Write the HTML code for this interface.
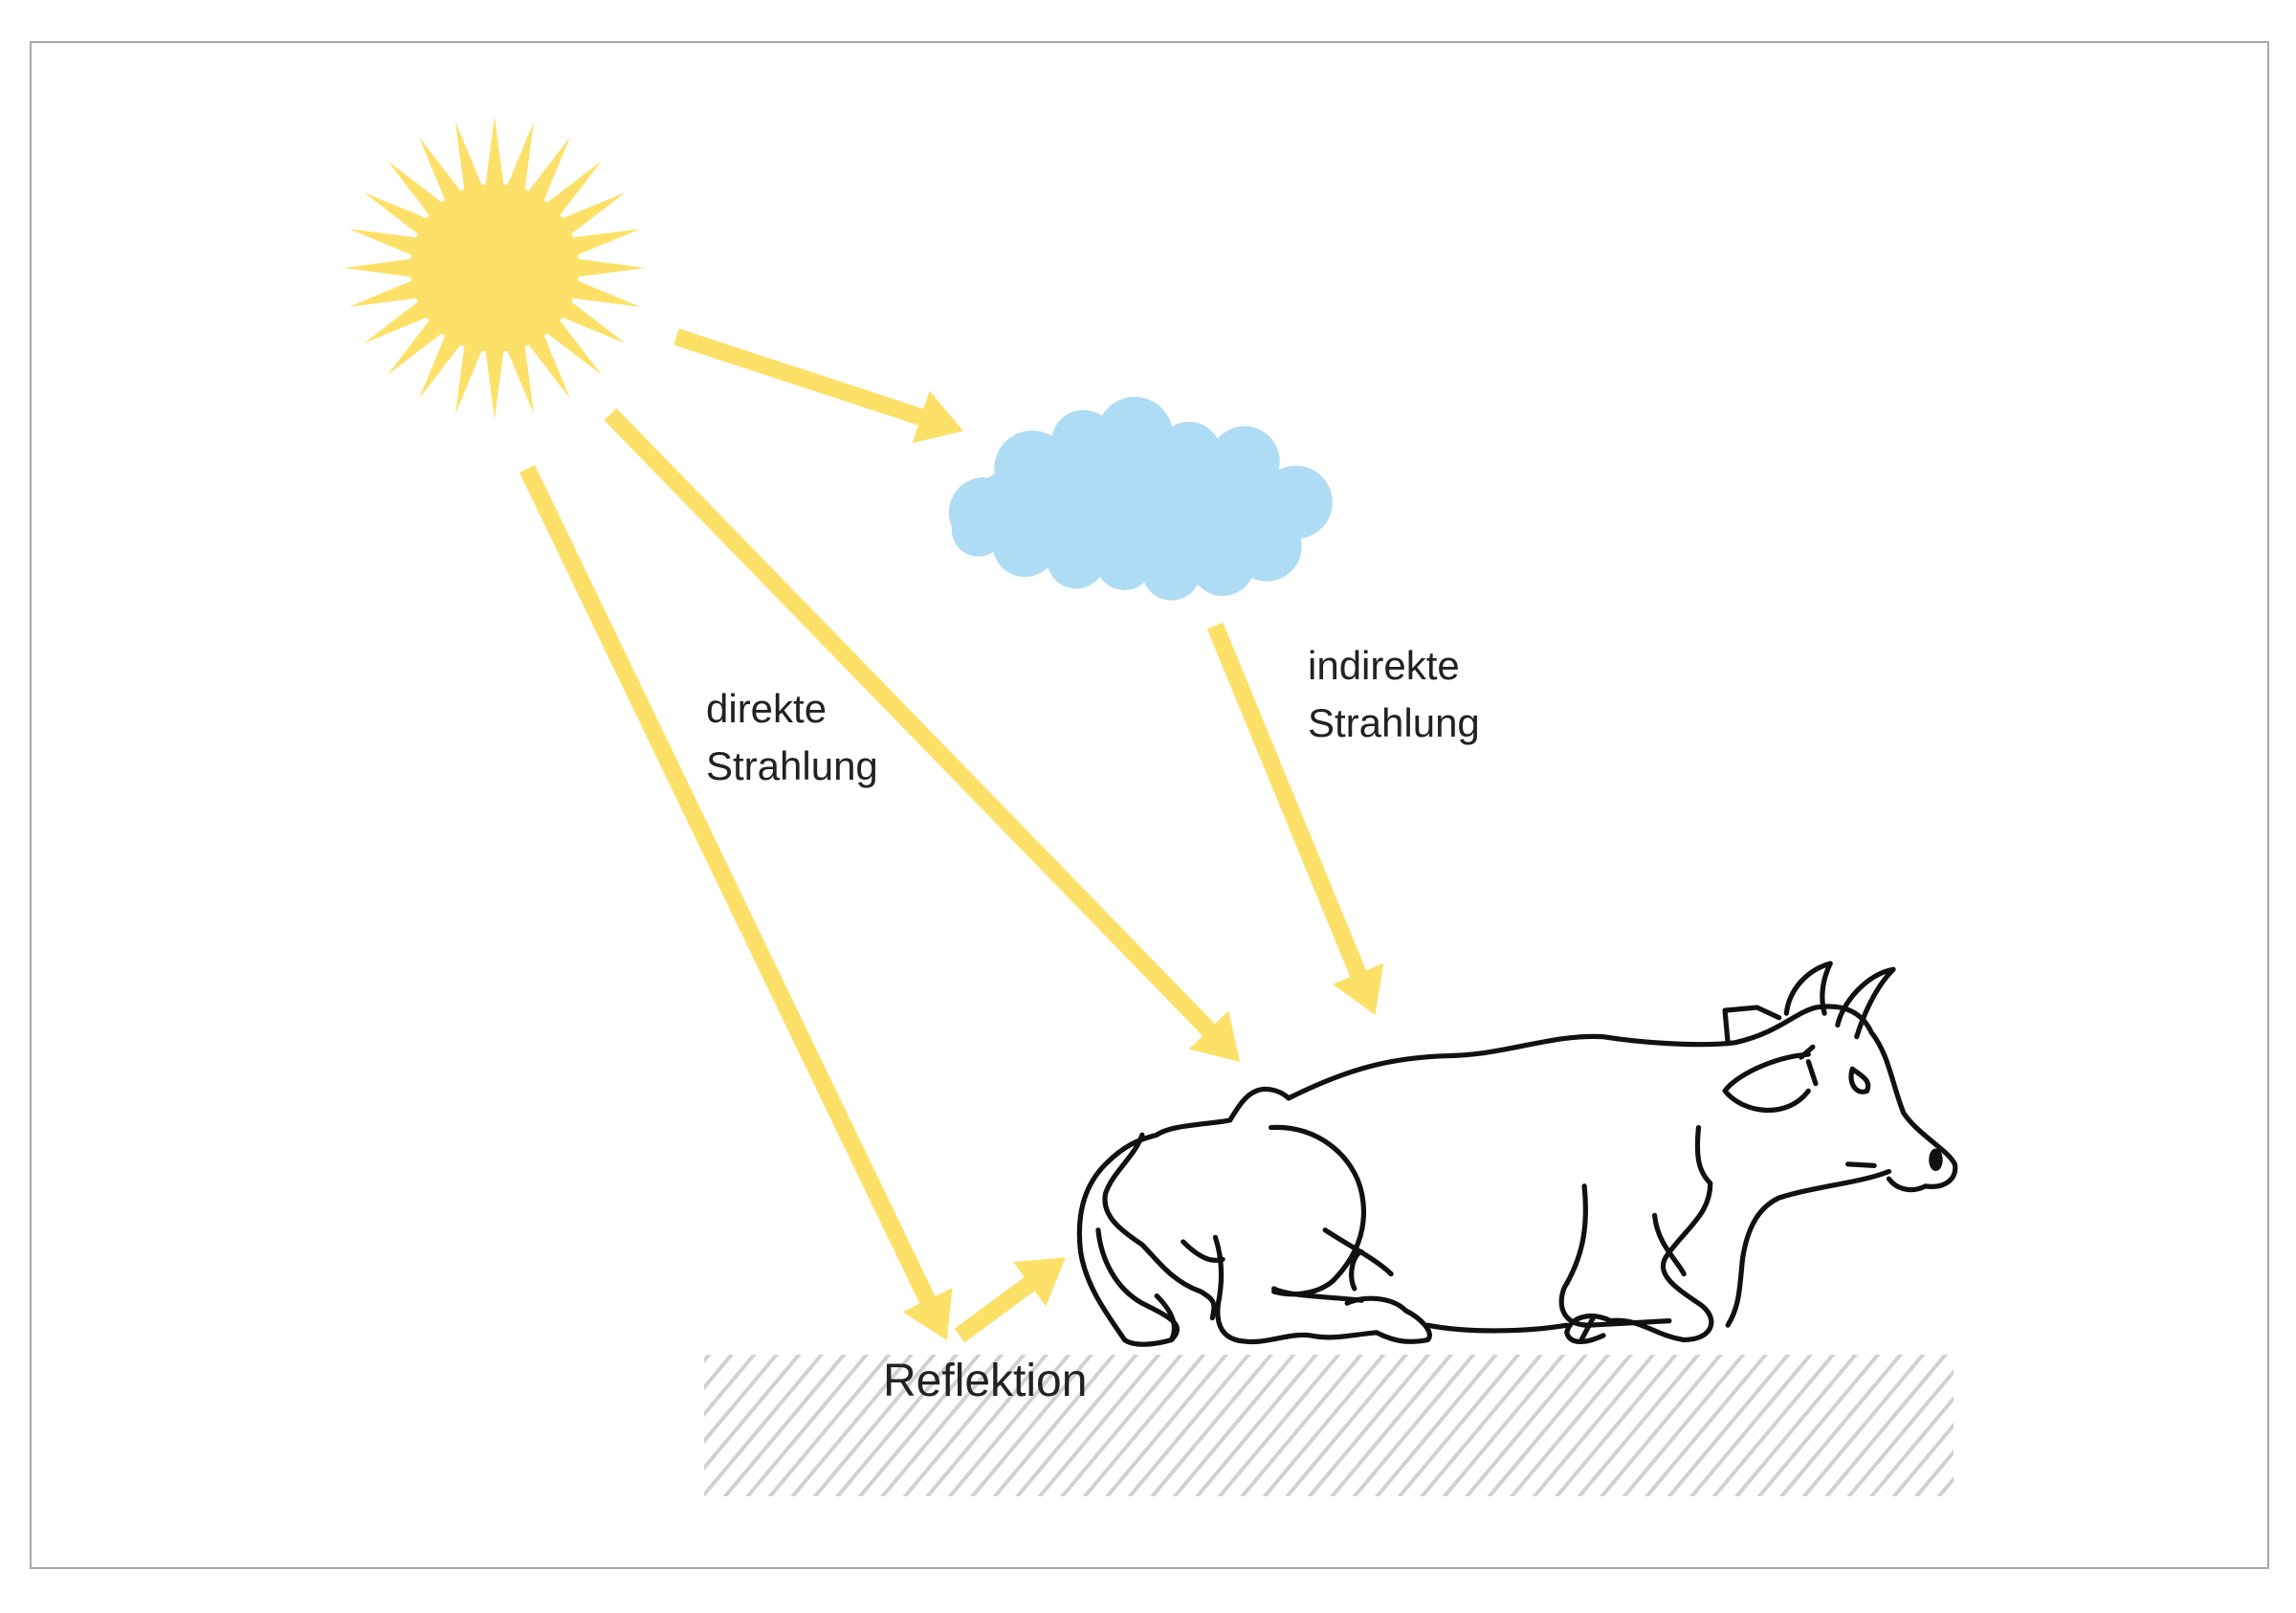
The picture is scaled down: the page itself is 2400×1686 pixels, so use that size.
<!DOCTYPE html>
<html><head><meta charset="utf-8"><style>
html,body{margin:0;padding:0;background:#fff}
svg{display:block}
text{font-family:"Liberation Sans",sans-serif;fill:#222}
</style></head><body>
<svg width="2400" height="1686" viewBox="0 0 2400 1686" xmlns="http://www.w3.org/2000/svg">
<defs>
<pattern id="h" width="18" height="18" patternUnits="userSpaceOnUse" patternTransform="rotate(40)">
<rect x="0" y="0" width="4" height="18" fill="#cfd2d4"/>
</pattern>
<polygon id="sp" points="-13,-60 0,-158 13,-60" fill="#fde068"/>
<marker id="ah" markerWidth="3" markerHeight="3.2" refX="0.2" refY="1.6" orient="auto" markerUnits="strokeWidth">
<polygon points="0,0 2.6,1.6 0,3.2" fill="#fde068"/>
</marker>
</defs>
<rect x="32" y="44" width="2339" height="1595" fill="#fff" stroke="#a8a8a8" stroke-width="2"/>
<rect x="736" y="1416" width="1306" height="148" fill="url(#h)"/>
<g transform="translate(517,280)">
<circle r="88" fill="#fde068"/>
<use href="#sp" transform="rotate(0)"/><use href="#sp" transform="rotate(15)"/><use href="#sp" transform="rotate(30)"/><use href="#sp" transform="rotate(45)"/><use href="#sp" transform="rotate(60)"/><use href="#sp" transform="rotate(75)"/><use href="#sp" transform="rotate(90)"/><use href="#sp" transform="rotate(105)"/><use href="#sp" transform="rotate(120)"/><use href="#sp" transform="rotate(135)"/><use href="#sp" transform="rotate(150)"/><use href="#sp" transform="rotate(165)"/><use href="#sp" transform="rotate(180)"/><use href="#sp" transform="rotate(195)"/><use href="#sp" transform="rotate(210)"/><use href="#sp" transform="rotate(225)"/><use href="#sp" transform="rotate(240)"/><use href="#sp" transform="rotate(255)"/><use href="#sp" transform="rotate(270)"/><use href="#sp" transform="rotate(285)"/><use href="#sp" transform="rotate(300)"/><use href="#sp" transform="rotate(315)"/><use href="#sp" transform="rotate(330)"/><use href="#sp" transform="rotate(345)"/>
</g>
<g stroke="#fde068" stroke-width="18" fill="none" marker-end="url(#ah)">
<line x1="707" y1="352" x2="966" y2="437"/>
<line x1="638" y1="433" x2="1266" y2="1079"/>
<line x1="551" y1="490" x2="971" y2="1362"/>
<line x1="1270" y1="654" x2="1421" y2="1021"/>
<line x1="1003" y1="1396" x2="1079" y2="1340"/>
</g>
<g transform="scale(1.5306)" fill="#aedcf5">
<ellipse cx="778" cy="345" rx="115" ry="42"/>
<circle cx="672" cy="350" r="24"/><circle cx="705" cy="320" r="26"/><circle cx="740" cy="302" r="22"/><circle cx="775" cy="297" r="26"/><circle cx="812" cy="310" r="22"/><circle cx="850" cy="315" r="24"/><circle cx="885" cy="343" r="25"/><circle cx="865" cy="373" r="24"/><circle cx="835" cy="385" r="22"/><circle cx="800" cy="390" r="20"/><circle cx="768" cy="383" r="20"/><circle cx="735" cy="382" r="20"/><circle cx="700" cy="372" r="22"/><circle cx="668" cy="362" r="18"/>
</g>
<g transform="scale(1.5306)" fill="none" stroke="#111" stroke-width="3.4" stroke-linecap="round" stroke-linejoin="round">
<path d="M880,750 C920,730 950,722 990,721 C1030,720 1060,706 1095,708 C1120,712 1160,715 1185,712 C1215,705 1225,692 1240,688"/>
<path d="M1180,712 L1178,690 L1200,688 L1215,695"/>
<path d="M1220,692 C1222,675 1235,662 1250,658 C1243,672 1244,685 1246,692"/>
<path d="M1255,700 C1258,685 1275,665 1293,662 C1280,675 1272,695 1268,708"/>
<path d="M1240,688 C1260,685 1272,692 1278,705 C1290,720 1292,740 1300,760 C1310,775 1330,785 1335,795 C1337,805 1328,812 1315,810 C1305,815 1295,812 1290,805"/>
<path d="M1290,800 C1270,808 1240,810 1215,818 C1200,825 1193,840 1190,860 C1188,880 1188,892 1180,905"/>
<path d="M1262,795 L1280,796"/>
<ellipse cx="1322" cy="792" rx="3" ry="6" fill="#111"/>
<path d="M1265,730 C1262,740 1268,748 1275,745 C1278,738 1272,735 1265,730 Z"/>
<path d="M1235,720 C1210,722 1185,735 1178,745 C1190,760 1220,765 1235,745"/>
<path d="M1235,725 L1240,740"/><path d="M1230,722 L1238,715"/>
<path d="M1160,770 C1158,790 1160,800 1168,808 C1168,830 1150,840 1138,858 C1130,870 1145,880 1160,890 C1175,900 1170,915 1150,915 C1130,912 1120,900 1100,902"/>
<path d="M1130,830 C1132,850 1145,860 1150,870"/>
<path d="M1082,810 C1085,840 1080,860 1068,880 C1063,895 1070,905 1085,905 L1140,902"/>
<path d="M1100,902 C1085,895 1072,900 1070,910 C1072,918 1082,918 1095,912"/><path d="M1080,915 L1088,900"/>
<path d="M1070,905 C1040,910 1000,910 975,905"/>
<path d="M880,750 C875,745 865,742 858,745 C850,748 845,757 840,765 C825,768 800,768 790,775 C780,778 770,780 755,795 C740,810 735,830 738,855 C742,880 758,900 768,915 C775,920 790,918 800,915 C805,905 800,895 790,885"/>
<path d="M780,775 C775,790 760,800 755,815 C752,830 765,840 780,850 C790,860 800,875 820,882 C830,888 830,890 828,900"/>
<path d="M750,840 C752,860 762,880 780,890 C800,900 810,905 800,915"/>
<path d="M868,770 C900,768 925,790 930,815 C935,840 925,860 910,875 C898,885 880,885 870,882"/>
<path d="M830,845 C835,860 835,875 832,890 C830,905 835,915 850,916 C865,918 880,910 895,912 C910,915 920,912 940,910 C950,915 960,918 975,915 C980,910 970,900 960,895 C950,885 930,885 920,890"/>
<path d="M870,880 C880,885 900,885 930,888"/>
<path d="M925,880 C920,870 925,855 930,855"/>
<path d="M905,840 C920,850 940,860 950,870"/>
<path d="M808,848 C820,860 828,862 835,860"/>
</g>
<text x="738" y="755" font-size="42">direkte</text>
<text x="738" y="815" font-size="42">Strahlung</text>
<text x="1367" y="710" font-size="42">indirekte</text>
<text x="1367" y="770" font-size="42">Strahlung</text>
<text x="923" y="1459" font-size="48">Reflektion</text>
</svg>
</body></html>
